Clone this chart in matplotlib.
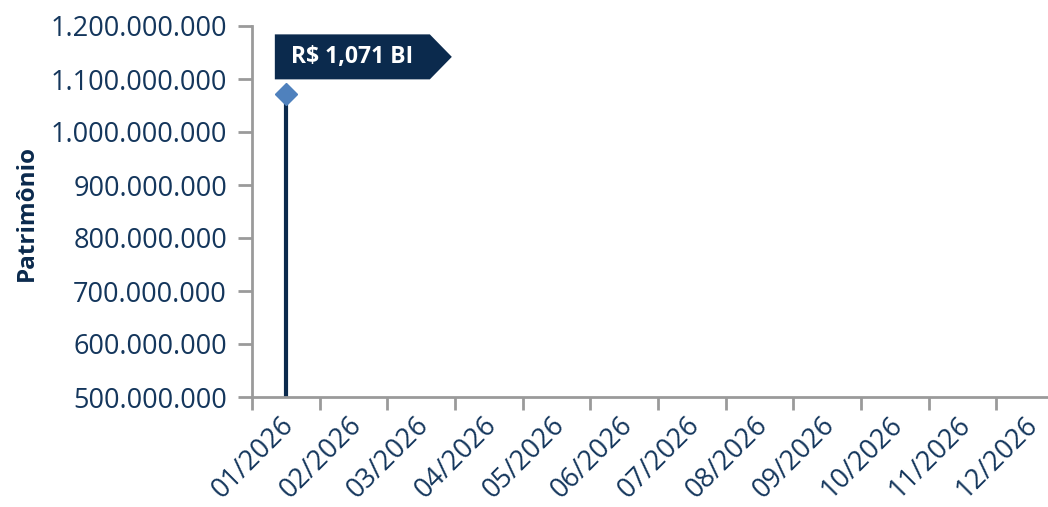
import numpy as np
import matplotlib.pyplot as plt
from matplotlib.patches import Polygon
from matplotlib.ticker import FuncFormatter
from matplotlib.transforms import ScaledTranslation

plt.rcParams['font.family'] = ['Open Sans', 'DejaVu Sans']

''' Data '''
months = ['01/2026', '02/2026', '03/2026', '04/2026', '05/2026', '06/2026',
          '07/2026', '08/2026', '09/2026', '10/2026', '11/2026', '12/2026']
patrimonio = [1071000000, None, None, None, None, None,
              None, None, None, None, None, None]
label_text = 'R$ 1,071 BI'
y_ticks = [500000000, 600000000, 700000000, 800000000, 900000000,
           1000000000, 1100000000, 1200000000]

navy = '#0b2a4d'
text_col = '#14365c'
spine_col = '#9a9a9a'
marker_col = '#4f81bd'

W, H = 1048, 507
fig = plt.figure(figsize=(W / 100, H / 100), dpi=100)
# axes runs past the right edge, like the reference
ax = fig.add_axes([252 / W, (H - 397) / H, (1064 - 252) / W, (397 - 26) / H])

x = np.arange(len(months))
xs = [i for i, v in zip(x, patrimonio) if v is not None]
vs = [v for v in patrimonio if v is not None]

ax.vlines(xs, y_ticks[0], vs, color=navy, lw=3, zorder=2)
ax.plot(xs, vs, 'D', color=marker_col, markersize=11, zorder=3, clip_on=False)

ax.set_xlim(-0.5, len(months) - 0.5)
ax.set_ylim(y_ticks[0], y_ticks[-1])
ax.set_yticks(y_ticks)
ax.yaxis.set_major_formatter(FuncFormatter(lambda v, p: f'{int(v):,}'.replace(',', '.')))

ax.set_xticks(x)
ax.set_xticklabels(months, rotation=45, ha='right', rotation_mode='anchor')
ax.set_xticks(np.arange(-0.5, len(months), 1), minor=True)
ax.tick_params(axis='x', which='major', length=0, pad=10, labelsize=19.5, labelcolor=text_col)
ax.tick_params(axis='x', which='minor', length=9, width=2, color=spine_col, direction='out')
ax.tick_params(axis='y', length=10, width=2, color=spine_col, pad=8, labelsize=19.5, labelcolor=text_col)

shift = ScaledTranslation(-6 / 100, 0, fig.dpi_scale_trans)
for lbl in ax.get_xticklabels():
    lbl.set_transform(lbl.get_transform() + shift)

for s in ['top', 'right']:
    ax.spines[s].set_visible(False)
for s in ['left', 'bottom']:
    ax.spines[s].set_color(spine_col)
    ax.spines[s].set_linewidth(2)

fig.text(27 / W, 1 - 213 / H, 'Patrimônio', rotation=90, ha='center', va='center',
         fontsize=17.5, fontweight='bold', color=navy)

''' Label flag above the point '''
px, py = ax.transData.transform((xs[0], vs[0]))
left, right, tip = px - 11, px + 144, px + 166
bot, top = py + 15, py + 60
flag = Polygon([[left, bot], [right, bot], [tip, (bot + top) / 2], [right, top], [left, top]],
               closed=True, transform=None, facecolor=navy, edgecolor='none', zorder=5)
fig.patches.append(flag)
fig.text((left + right) / 2 / W, (bot + top) / 2 / H, label_text, ha='center', va='center',
         color='white', fontsize=16.5, fontweight='bold', zorder=6)

fig.savefig('out.png', dpi=100)
